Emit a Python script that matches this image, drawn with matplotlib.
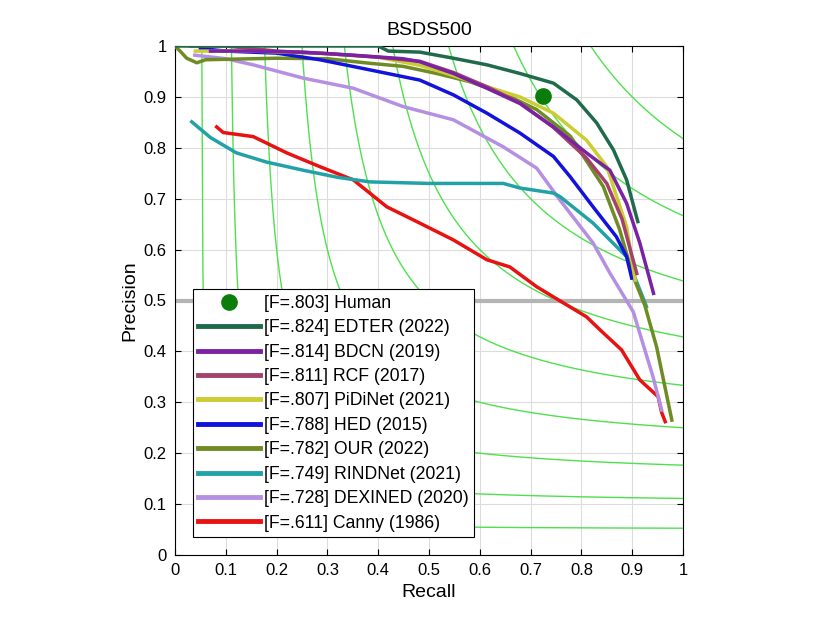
import numpy as np
import matplotlib
matplotlib.use("Agg")
import matplotlib.pyplot as plt

plt.rcParams['font.family'] = ['Liberation Sans', 'DejaVu Sans']

# iso-F levels drawn in the background
ISO_F = [0.1, 0.2, 0.3, 0.4, 0.5, 0.6, 0.7, 0.8, 0.9]

human_r = [0.724]
human_p = [0.902]

edter_r = [0.0, 0.40, 0.42, 0.482, 0.548, 0.614, 0.679, 0.745, 0.791, 0.830, 0.863, 0.889, 0.911]
edter_p = [1.0, 1.0, 0.99, 0.988, 0.976, 0.963, 0.946, 0.927, 0.894, 0.849, 0.796, 0.737, 0.655]

bdcn_r = [0.07, 0.15, 0.25, 0.35, 0.449, 0.482, 0.548, 0.614, 0.679, 0.745, 0.81, 0.856, 0.889, 0.915, 0.942]
bdcn_p = [0.99, 0.99, 0.988, 0.982, 0.975, 0.969, 0.946, 0.917, 0.887, 0.841, 0.79, 0.756, 0.691, 0.613, 0.514]

rcf_r = [0.03, 0.10, 0.2, 0.3, 0.4, 0.482, 0.548, 0.614, 0.679, 0.745, 0.81, 0.85, 0.88, 0.909]
rcf_p = [1.0, 1.0, 0.99, 0.985, 0.978, 0.97, 0.948, 0.92, 0.888, 0.84, 0.78, 0.73, 0.66, 0.553]

pidi_r = [0.04, 0.15, 0.3, 0.4, 0.482, 0.548, 0.614, 0.679, 0.745, 0.81, 0.85, 0.889, 0.906]
pidi_p = [0.99, 0.99, 0.985, 0.978, 0.962, 0.942, 0.92, 0.90, 0.868, 0.815, 0.763, 0.645, 0.54]

hed_r = [0.05, 0.1, 0.2, 0.285, 0.384, 0.482, 0.548, 0.614, 0.679, 0.745, 0.778, 0.823, 0.869, 0.889, 0.899]
hed_p = [0.995, 0.99, 0.986, 0.973, 0.953, 0.933, 0.904, 0.868, 0.829, 0.783, 0.743, 0.684, 0.625, 0.586, 0.544]

our_r = [0.0, 0.01, 0.023, 0.043, 0.06, 0.2, 0.3, 0.384, 0.449, 0.515, 0.58, 0.646, 0.712, 0.778,
         0.843, 0.875, 0.902, 0.925, 0.948, 0.978]
our_p = [1.0, 0.99, 0.976, 0.967, 0.973, 0.976, 0.975, 0.966, 0.96, 0.946, 0.93, 0.907, 0.875, 0.823,
         0.724, 0.64, 0.547, 0.49, 0.409, 0.265]

rind_r = [0.033, 0.07, 0.121, 0.18, 0.252, 0.32, 0.384, 0.5, 0.58, 0.646, 0.679, 0.745, 0.758,
          0.823, 0.889, 0.915, 0.928]
rind_p = [0.851, 0.82, 0.790, 0.772, 0.756, 0.742, 0.733, 0.73, 0.73, 0.73, 0.721, 0.711, 0.704,
          0.652, 0.586, 0.521, 0.488]

dex_r = [0.039, 0.1, 0.154, 0.252, 0.351, 0.449, 0.548, 0.646, 0.712, 0.758, 0.823, 0.856, 0.902, 0.941, 0.958]
dex_p = [0.982, 0.975, 0.963, 0.937, 0.917, 0.881, 0.855, 0.802, 0.76, 0.697, 0.613, 0.554, 0.478, 0.35, 0.285]

canny_r = [0.082, 0.095, 0.154, 0.22, 0.285, 0.351, 0.417, 0.482, 0.548, 0.614, 0.659, 0.712, 0.745,
           0.81, 0.837, 0.879, 0.915, 0.951, 0.958, 0.965]
canny_p = [0.841, 0.83, 0.822, 0.79, 0.763, 0.737, 0.684, 0.652, 0.619, 0.58, 0.566, 0.527, 0.507,
           0.468, 0.442, 0.403, 0.344, 0.311, 0.28, 0.262]

curves = [
    ("[F=.824] EDTER (2022)", edter_r, edter_p, "#1f6b4c"),
    ("[F=.814] BDCN (2019)", bdcn_r, bdcn_p, "#7b22a4"),
    ("[F=.811] RCF (2017)", rcf_r, rcf_p, "#a3426c"),
    ("[F=.807] PiDiNet (2021)", pidi_r, pidi_p, "#cccc33"),
    ("[F=.788] HED (2015)", hed_r, hed_p, "#1212dc"),
    ("[F=.782] OUR (2022)", our_r, our_p, "#6e8b24"),
    ("[F=.749] RINDNet (2021)", rind_r, rind_p, "#22a2a6"),
    ("[F=.728] DEXINED (2020)", dex_r, dex_p, "#b590e2"),
    ("[F=.611] Canny (1986)", canny_r, canny_p, "#e81212"),
]

fig = plt.figure(figsize=(8.3, 6.23), dpi=100)
ax = fig.add_axes([175 / 830, 68 / 623, 508 / 830, 509 / 623])

# iso-F contours
for f in ISO_F:
    r = np.linspace(f / 2 + 1e-4, 1, 400)
    p = f * r / (2 * r - f)
    ax.plot(r, p, color="#4fe04f", lw=1.0, zorder=1)

ax.axhline(0.5, color="#b4b4b4", lw=3, zorder=2)

handles = []
h, = ax.plot(human_r, human_p, "o", color="#0a7d0a", ms=11, zorder=20,
             label="[F=.803] Human")
handles.append(h)
lines = []
for name, r, p, c in curves:
    ln, = ax.plot(r, p, color=c, lw=2.5, label=name, solid_joinstyle="round")
    lines.append(ln)
handles += lines
# keep draw order so the better methods sit on top
for i, ln in enumerate(lines):
    ln.set_zorder(10 - i * 0.5)

ax.set_xlim(0, 1)
ax.set_ylim(0, 1)
ticks = np.arange(0, 1.01, 0.1)
labels = ["0"] + ["%.1f" % t for t in ticks[1:-1]] + ["1"]
ax.set_xticks(ticks)
ax.set_yticks(ticks)
ax.set_xticklabels(labels, fontsize=12)
ax.set_yticklabels(labels, fontsize=12)
ax.tick_params(direction="in", top=True, right=True, length=4, pad=6)
ax.grid(True, color="#dcdcdc", lw=0.8)
ax.set_axisbelow(True)

ax.set_xlabel("Recall", fontsize=14)
ax.set_ylabel("Precision", fontsize=14)
ax.set_title("BSDS500", fontsize=14, pad=8)

leg = ax.legend(handles=handles, loc="lower left", bbox_to_anchor=(0.035, 0.035),
                fontsize=12.7, handlelength=3.5, handletextpad=0.2,
                labelspacing=0.42, borderpad=0.32, borderaxespad=0,
                fancybox=False, edgecolor="black", framealpha=1)
leg.get_frame().set_linewidth(0.8)
for ln in leg.get_lines():
    ln.set_linewidth(3.5)

fig.savefig("out.png", dpi=100)
